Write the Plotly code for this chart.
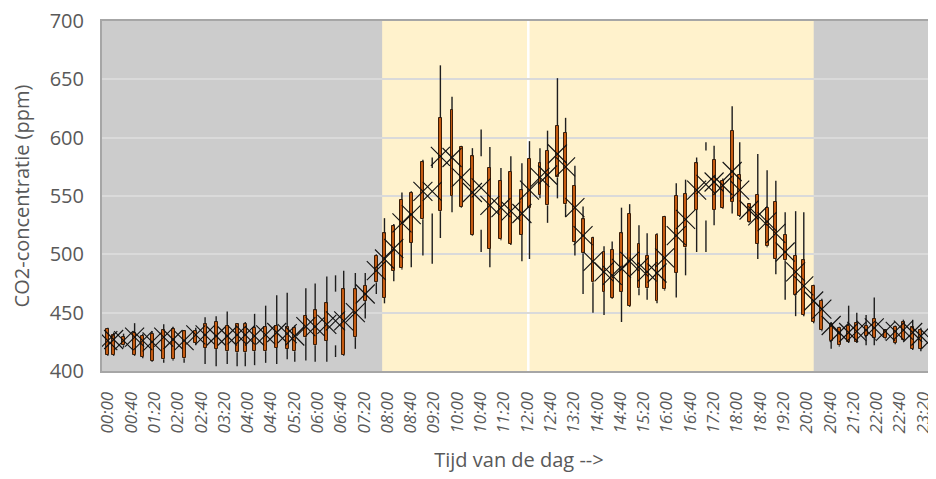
import plotly.graph_objects as go

# ---- data ----
times = ["00:00","00:10","00:27","00:46","01:00","01:16","01:36","01:52","02:11","02:31",
         "02:47","03:06","03:25","03:42","03:56","04:12","04:31","04:50","05:08","05:21",
         "05:40","05:56","06:16","06:31","06:45","07:05","07:22","07:41","07:55","08:11",
         "08:25","08:41","09:01","09:17","09:31","09:51","10:07","10:26","10:41","10:56",
         "11:15","11:32","11:51","12:04","12:22","12:35","12:52","13:06","13:22","13:36",
         "13:53","14:12","14:26","14:42","14:56","15:12","15:26","15:43","15:56","16:16",
         "16:32","16:51","17:07","17:21","17:36","17:52","18:05","18:21","18:36","18:52",
         "19:07","19:23","19:41","19:55","20:12","20:26","20:42","20:56","21:12","21:26",
         "21:42","21:56","22:15","22:32","22:46","23:02","23:16","23:33"]

high = [437,433,432,441,432,434,440,438,435,437,446,447,451,441,442,449,456,465,467,439,
        471,475,481,482,486,484,484,500,531,526,553,554,581,583,662,635,593,591,607,592,
        574,584,578,597,591,606,651,617,576,541,515,507,511,540,543,525,518,518,533,561,
        564,583,596,593,565,627,596,544,586,572,563,536,537,536,474,462,442,438,456,450,
        448,463,436,439,444,444,437,435]
box_top = [436,431,429,433,430,432,435,436,434,434,440,442,439,440,440,437,438,439,438,437,
           447,452,458,468,470,470,473,499,518,524,547,553,579,574,617,624,592,584,584,574,
           563,571,555,582,578,589,610,604,559,530,514,502,504,518,535,509,499,517,532,550,
           552,578,589,581,563,606,568,543,551,540,545,517,499,495,473,460,440,437,439,441,
           439,445,435,438,442,438,435,434]
box_bottom = [414,414,422,414,412,409,410,410,411,424,420,419,417,416,416,417,417,420,419,417,
              429,422,426,422,414,429,460,476,463,486,488,510,530,535,537,550,541,517,521,505,
              513,509,517,540,551,542,566,543,511,501,476,468,463,468,456,471,471,460,470,484,
              506,538,529,538,540,545,533,528,509,507,496,495,465,448,442,435,426,422,425,425,
              430,428,428,424,427,419,419,416]
low = [413,413,420,413,411,408,407,409,407,422,406,404,406,404,404,405,407,406,410,408,
       409,408,408,412,413,419,445,466,458,477,487,489,499,492,514,536,540,516,502,489,
       512,508,494,496,548,527,548,532,499,466,450,448,462,442,455,465,461,458,469,463,
       482,502,502,525,539,535,532,527,496,506,483,461,447,447,441,434,419,421,424,424,
       422,422,427,423,426,418,417,415]
mean = [426,427,426,429,426,425,429,427,426,431,431,430,430,431,431,430,431,433,432,430,
        438,438,440,443,443,450,466,486,496,505,527,534,554,554,584,583,566,553,557,542,
        540,537,535,555,566,568,586,575,540,516,494,485,482,488,494,489,485,484,497,516,
        530,555,560,562,559,571,555,538,533,528,518,502,485,473,460,453,439,433,433,434,
        435,437,434,434,435,433,430,427]
# points drawn with a high-low line only (no open/close bar)
hollow = ["06:31", "09:17", "10:41", "17:07"]

tick_labels = ["00:00","00:40","01:20","02:00","02:40","03:20","04:00","04:40","05:20",
               "06:00","06:40","07:20","08:00","08:40","09:20","10:00","10:40","11:20",
               "12:00","12:40","13:20","14:00","14:40","15:20","16:00","16:40","17:20",
               "18:00","18:40","19:20","20:00","20:40","21:20","22:00","22:40","23:20"]
office_band = ["07:51", "20:12"]
band_divider = ["12:02"]
axis_range = ["-00:10", "23:42"]


def to_min(s):
    neg = s.startswith("-")
    h, m = s.lstrip("-").split(":")
    v = int(h) * 60 + int(m)
    return -v if neg else v


x = [to_min(t) for t in times]

# whisker segments (low -> bar bottom, bar top -> high)
wx, wy = [], []
for xi, lo, bb, bt, hi in zip(x, low, box_bottom, box_top, high):
    wx += [xi, xi, None, xi, xi, None]
    wy += [lo, bb, None, bt, hi, None]

bar_base = [None if t in hollow else b for t, b in zip(times, box_bottom)]
bar_len = [None if t in hollow else (tp - b) for t, tp, b in zip(times, box_top, box_bottom)]

FONT = "Open Sans"
GREY_TXT = "#595959"

fig = go.Figure()
fig.add_trace(go.Bar(
    x=x, y=bar_len, base=bar_base, width=5,
    marker=dict(color="#c55a11", line=dict(color="#3a1d07", width=1)),
    hoverinfo="skip", showlegend=False))
fig.add_trace(go.Scatter(
    x=wx, y=wy, mode="lines", line=dict(color="#1e1e1e", width=1.4),
    hoverinfo="skip", showlegend=False, connectgaps=False))
fig.add_trace(go.Scatter(
    x=x, y=mean, mode="markers",
    marker=dict(symbol="x-thin", size=19, line=dict(color="#111111", width=1.1)),
    showlegend=False))

shapes = [dict(type="rect", xref="x", yref="paper",
               x0=to_min(office_band[0]), x1=to_min(office_band[1]), y0=0, y1=1,
               fillcolor="#fff2cc", line=dict(width=0), layer="below")]
for d in band_divider:
    shapes.append(dict(type="line", xref="x", yref="paper",
                       x0=to_min(d), x1=to_min(d), y0=0, y1=1,
                       line=dict(color="#ffffff", width=2.5), layer="below"))

# the page adds an 8px body margin, so the figure is 8px smaller and shifted
fig.update_layout(
    width=928, height=471,
    margin=dict(l=94, r=0, t=13, b=108, autoexpand=False),
    paper_bgcolor="white", plot_bgcolor="#cccccc",
    font=dict(family=FONT, color=GREY_TXT),
    shapes=shapes, bargap=0,
    xaxis=dict(
        range=[to_min(axis_range[0]), to_min(axis_range[1])],
        tickvals=[to_min(t) for t in tick_labels], ticktext=tick_labels,
        tickangle=-90, tickfont=dict(size=17, style="italic", color=GREY_TXT),
        ticks="", ticklabelstandoff=12, ticklabeloverflow="allow",
        showgrid=False, zeroline=False, automargin=False,
        showline=True, linecolor="#a6a6a6", linewidth=2, mirror=True,
        title=dict(text="Tijd van de dag -->", font=dict(size=20, color=GREY_TXT), standoff=20),
    ),
    yaxis=dict(
        range=[400, 700], dtick=50, tickfont=dict(size=20, color=GREY_TXT),
        ticks="", ticklabelstandoff=12, ticklabeloverflow="allow",
        showgrid=True, gridcolor="#dadada", gridwidth=2,
        zeroline=False, showline=True, linecolor="#a6a6a6", linewidth=2, automargin=False,
        title=dict(text="CO2-concentratie (ppm)", font=dict(size=20, color=GREY_TXT), standoff=26),
    ),
)

fig.write_html("out.html")
